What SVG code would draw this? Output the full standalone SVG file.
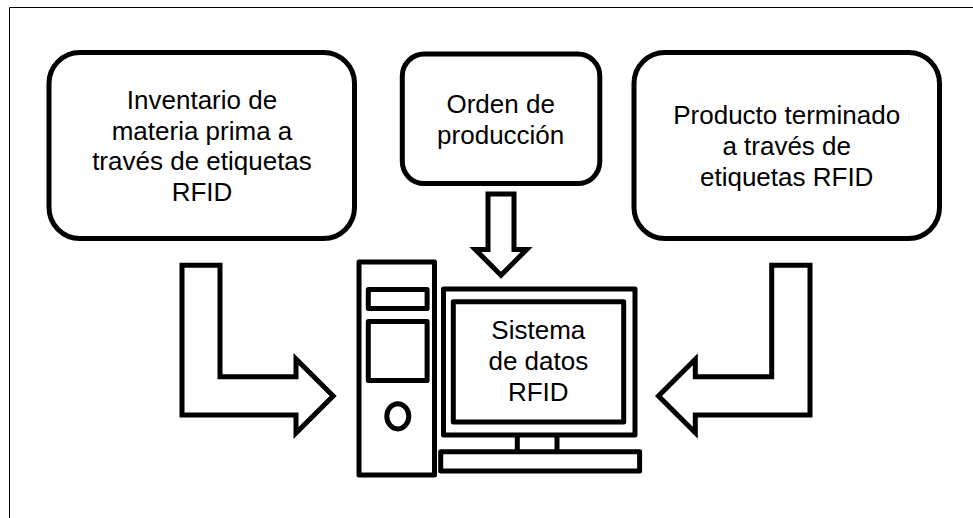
<svg xmlns="http://www.w3.org/2000/svg" width="973" height="518" viewBox="0 0 973 518">
<style>
.s{fill:#fff;stroke:#000;stroke-width:5}
.j{stroke-linejoin:round}
.a{fill:#fff;stroke:#000;stroke-width:5;stroke-linejoin:miter;stroke-miterlimit:10}
text{font-family:"Liberation Sans",Arial,sans-serif;font-size:26px;fill:#000;text-anchor:middle}
</style>
<rect width="973" height="518" fill="#fff"/>
<path id="frame" d="M9.5 518V7.5H973" fill="none" stroke="#000" stroke-width="1"/>
<g id="inventario">
<rect class="s" x="49" y="52.5" width="305.5" height="186" rx="31"/>
<text x="202" y="109">Inventario de</text>
<text x="202" y="139.5">materia prima a</text>
<text x="202" y="170">través de etiquetas</text>
<text x="202" y="200.5">RFID</text>
</g>
<g id="orden">
<rect class="s" x="402.3" y="54" width="197.5" height="129.6" rx="22"/>
<text x="500.7" y="113.3">Orden de</text>
<text x="500.7" y="144.3">producción</text>
</g>
<g id="producto">
<rect class="s" x="634" y="52.5" width="305.5" height="186" rx="31"/>
<text x="786.7" y="124">Producto terminado</text>
<text x="786.7" y="155">a través de</text>
<text x="786.7" y="186">etiquetas RFID</text>
</g>
<g id="connectors">
<path class="a" d="M182 265.3H220V376.7H296V359L333.2 396L296 433V415H182Z"/>
<path class="a" d="M488 194H514V249.5H526.7L501 275.2L475.3 249.5H488Z"/>
<path class="a" d="M810 265.3H771.7V376.7H695.3V359.2L658.5 396L695.3 432.8V415H810Z"/>
</g>
<g id="computadora">
<rect class="s j" x="359" y="262" width="75.5" height="213"/>
<rect class="s j" x="368.3" y="289.6" width="58.8" height="18.8"/>
<rect class="s j" x="368.3" y="321.6" width="58.8" height="58.8"/>
<ellipse class="s" cx="397.8" cy="416.3" rx="11" ry="12.6"/>
<path d="M517.3 437V450M557 437V450" fill="none" stroke="#000" stroke-width="5"/>
<rect class="s j" x="443.5" y="289" width="191.5" height="146"/>
<rect class="s j" x="453.3" y="301.7" width="170.4" height="120.3"/>
<rect class="s j" x="440.7" y="451.7" width="198.9" height="19.3"/>
<text x="538.3" y="338.7">Sistema</text>
<text x="538.3" y="369.7">de datos</text>
<text x="538.3" y="400.7">RFID</text>
</g>
</svg>
